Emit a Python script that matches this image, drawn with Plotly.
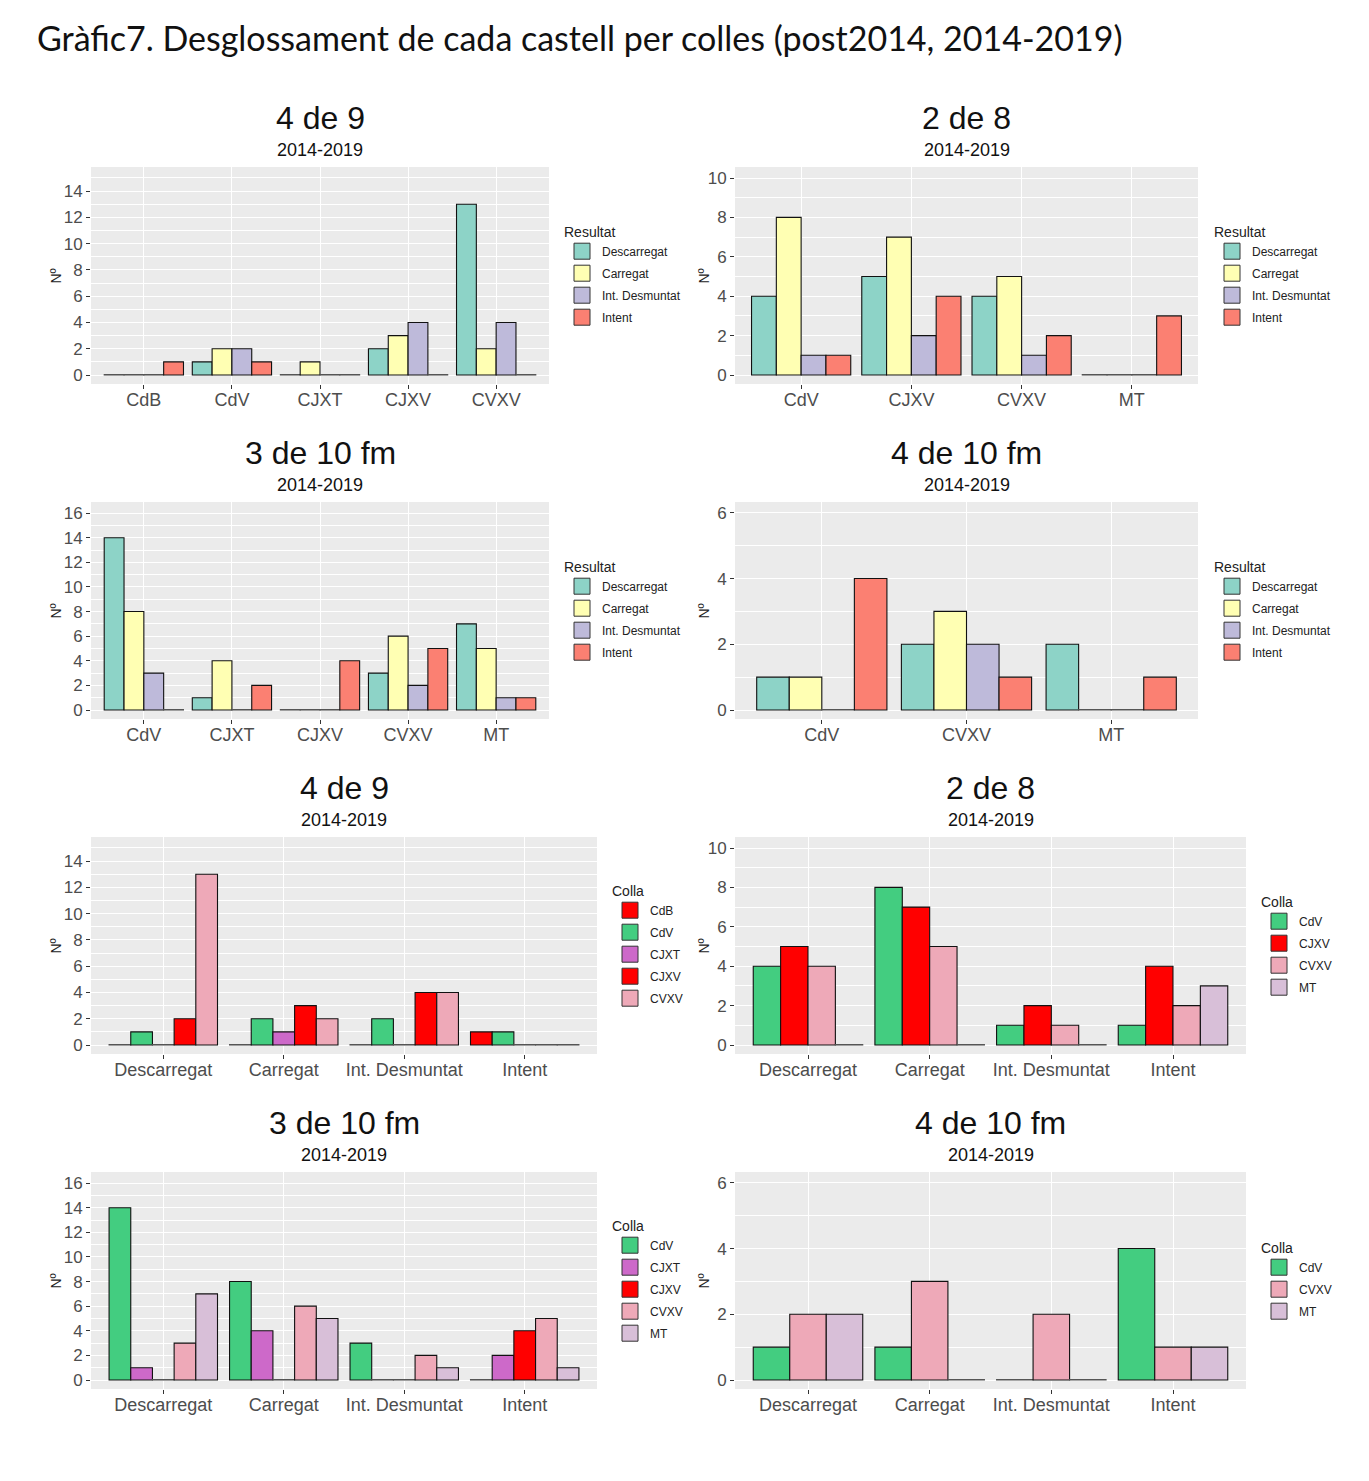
import plotly.graph_objects as go

W, H = 1369, 1481
OFF = 8  # page body margin offset

titol = "Gràfic7. Desglossament de cada castell per colles (post2014, 2014-2019)"
periode = "2014-2019"

resultats = ["Descarregat", "Carregat", "Int. Desmuntat", "Intent"]
resultat_colors = ["#8DD3C7", "#FFFFB3", "#BEBADA", "#FB8072"]
colla_colors = {"CdB": "#FF0000", "CdV": "#43CD80", "CJXT": "#CD69C9",
                "CJXV": "#FF0000", "CVXV": "#EEA9B8", "MT": "#D8BFD8"}

# ---- 4 de 9 ----
colles_4de9 = ["CdB", "CdV", "CJXT", "CJXV", "CVXV"]
descarregat_4de9 = [0, 1, 0, 2, 13]
carregat_4de9 = [0, 2, 1, 3, 2]
intdesm_4de9 = [0, 2, 0, 4, 4]
intent_4de9 = [1, 1, 0, 0, 0]

# ---- 2 de 8 ----
colles_2de8 = ["CdV", "CJXV", "CVXV", "MT"]
descarregat_2de8 = [4, 5, 4, 0]
carregat_2de8 = [8, 7, 5, 0]
intdesm_2de8 = [1, 2, 1, 0]
intent_2de8 = [1, 4, 2, 3]

# ---- 3 de 10 fm ----
colles_3de10 = ["CdV", "CJXT", "CJXV", "CVXV", "MT"]
descarregat_3de10 = [14, 1, 0, 3, 7]
carregat_3de10 = [8, 4, 0, 6, 5]
intdesm_3de10 = [3, 0, 0, 2, 1]
intent_3de10 = [0, 2, 4, 5, 1]

# ---- 4 de 10 fm ----
colles_4de10 = ["CdV", "CVXV", "MT"]
descarregat_4de10 = [1, 2, 2]
carregat_4de10 = [1, 3, 0]
intdesm_4de10 = [0, 2, 0]
intent_4de10 = [4, 1, 1]

castells = {
    "4 de 9": (colles_4de9, [descarregat_4de9, carregat_4de9, intdesm_4de9, intent_4de9]),
    "2 de 8": (colles_2de8, [descarregat_2de8, carregat_2de8, intdesm_2de8, intent_2de8]),
    "3 de 10 fm": (colles_3de10, [descarregat_3de10, carregat_3de10, intdesm_3de10, intent_3de10]),
    "4 de 10 fm": (colles_4de10, [descarregat_4de10, carregat_4de10, intdesm_4de10, intent_4de10]),
}

# layout of panels (pixels): castell, grouping, x-extent, y-extent, y-range, legend x, y-title x
panels = [
    ("4 de 9", "colla", (91, 549), (167, 384), (-0.685, 15.83), 562, 55),
    ("2 de 8", "colla", (735, 1198), (167, 384), (-0.457, 10.56), 1212, 703),
    ("3 de 10 fm", "colla", (91, 549), (502, 719), (-0.73, 16.9), 562, 55),
    ("4 de 10 fm", "colla", (735, 1198), (502, 719), (-0.274, 6.33), 1212, 703),
    ("4 de 9", "resultat", (91, 597), (837, 1054), (-0.685, 15.83), 610, 55),
    ("2 de 8", "resultat", (735, 1246), (837, 1054), (-0.457, 10.56), 1259, 703),
    ("3 de 10 fm", "resultat", (91, 597), (1172, 1389), (-0.73, 16.9), 610, 55),
    ("4 de 10 fm", "resultat", (735, 1246), (1172, 1389), (-0.274, 6.33), 1259, 703),
]


def px(x):
    return (x - OFF) / W


def py(y):
    return 1 - (y - OFF) / H


fig = go.Figure()
annotations = []
layout = {}

annotations.append(dict(text=titol, x=px(35), y=py(38), xref="paper", yref="paper",
                        xanchor="left", yanchor="middle", showarrow=False,
                        font=dict(family="Lato, Noto Sans, sans-serif", size=34, color="#111")))

for i, (castell, mode, (x0, x1), (y0, y1), yr, legx, ytx) in enumerate(panels, start=1):
    colles, vals = castells[castell]
    if mode == "colla":
        cats = colles
        series = [(resultats[k], resultat_colors[k], vals[k]) for k in range(4)]
        legtitle = "Resultat"
    else:
        cats = resultats
        series = [(c, colla_colors[c], [vals[k][j] for k in range(4)]) for j, c in enumerate(colles)]
        legtitle = "Colla"

    sfx = "" if i == 1 else str(i)
    xa, ya = "x" + sfx, "y" + sfx
    lg = "legend" + sfx
    ppu = (y1 - y0) / (yr[1] - yr[0])
    eps = 0.45 / ppu

    for name, col, v in series:
        fig.add_trace(go.Bar(
            x=cats, y=[val if val > 0 else eps for val in v], customdata=v,
            hovertemplate=name + " %{x}: %{customdata}<extra></extra>",
            marker=dict(color=col, line=dict(color=["#111" if val > 0 else "#555" for val in v], width=1.1)),
            xaxis=xa, yaxis=ya, showlegend=False, name=name))
    for k, (name, col, v) in enumerate(series):
        fig.add_trace(go.Scatter(
            x=[None], y=[None], mode="markers", name=name, legend=lg,
            legendgroup=f"{lg}_{k}",
            marker=dict(symbol="square", size=16, color=col, line=dict(color="#333", width=1)),
            xaxis=xa, yaxis=ya, showlegend=True, hoverinfo="skip"))

    n = len(cats)
    layout["xaxis" + sfx] = dict(
        domain=[px(x0), px(x1)], anchor=ya, type="category",
        categoryorder="array", categoryarray=cats, range=[-0.6, n - 0.4],
        showgrid=True, gridcolor="white", gridwidth=1.1, zeroline=False, showline=False,
        ticks="outside", ticklen=4, tickcolor="#333", tickwidth=1, ticklabelstandoff=-5,
        tickfont=dict(family="Liberation Sans, Arial", size=18, color="#4D4D4D"),
        fixedrange=True)
    layout["yaxis" + sfx] = dict(
        domain=[py(y1), py(y0)], anchor=xa, range=list(yr),
        tick0=0, dtick=2, showgrid=True, gridcolor="white", gridwidth=1.1,
        minor=dict(dtick=1, tick0=0, showgrid=True, gridcolor="white", gridwidth=0.55),
        zeroline=False, showline=False,
        ticks="outside", ticklen=4, tickcolor="#333", tickwidth=1,
        tickfont=dict(family="Liberation Sans, Arial", size=17, color="#4D4D4D"),
        fixedrange=True)
    layout[lg] = dict(
        title=dict(text=legtitle, font=dict(family="Liberation Sans, Arial", size=14, color="#222")),
        font=dict(family="Liberation Sans, Arial", size=12, color="#222"),
        x=px(legx), y=py((y0 + y1) / 2), xanchor="left", yanchor="middle",
        xref="paper", yref="paper", bgcolor="rgba(0,0,0,0)", tracegroupgap=3,
        itemsizing="trace")

    xc = px((x0 + x1) / 2)
    annotations.append(dict(text=castell, x=xc, y=py(y0 - 49), xref="paper", yref="paper",
                            xanchor="center", yanchor="middle", showarrow=False,
                            font=dict(family="Liberation Sans, Arial", size=32, color="#111")))
    annotations.append(dict(text=periode, x=xc, y=py(y0 - 17), xref="paper", yref="paper",
                            xanchor="center", yanchor="middle", showarrow=False,
                            font=dict(family="Liberation Sans, Arial", size=18, color="#111")))
    annotations.append(dict(text="Nº", x=px(ytx), y=py((y0 + y1) / 2), xref="paper", yref="paper",
                            xanchor="center", yanchor="middle", showarrow=False, textangle=-90,
                            font=dict(family="Liberation Sans, Arial", size=14, color="#222")))

fig.update_layout(
    width=W, height=H, margin=dict(l=0, r=0, t=0, b=0),
    paper_bgcolor="white", plot_bgcolor="#EBEBEB",
    barmode="group", bargap=0.1, bargroupgap=0,
    annotations=annotations, **layout)

fig.write_html("out.html")
